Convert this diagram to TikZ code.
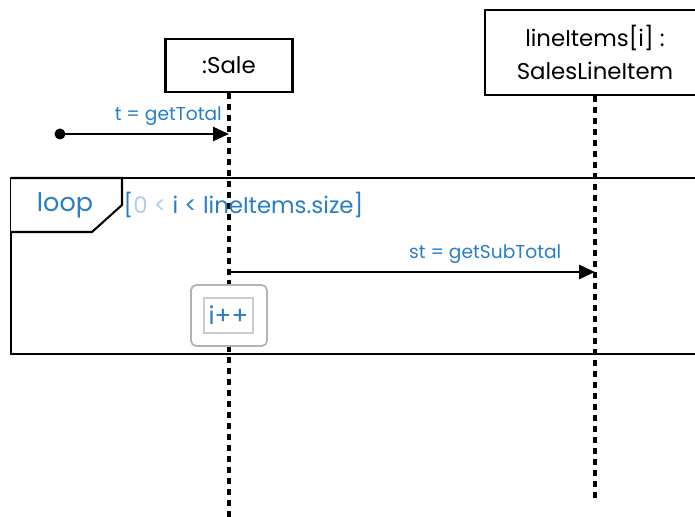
\documentclass[tikz,border=0pt]{standalone}
\usepackage{fontspec}
\setmainfont{Poppins}
\usetikzlibrary{arrows.meta,positioning}
\definecolor{msgblue}{RGB}{40,125,195}
\definecolor{paleblue}{RGB}{175,205,240}
\begin{document}
\begin{tikzpicture}[thick,
	obj/.style = {draw, line width=1.2pt, fill=white, align=center, font=\fontsize{13}{18.5}\selectfont},
	life/.style = {line width=1.9pt, dash pattern=on 0.12cm off 0.1cm},
	msg/.style = {line width=1.5pt, -{Triangle[length=0.32cm,width=0.28cm]}},
	lbl/.style = {text=msgblue, font=\fontsize{10.6}{12}\selectfont}]
	\clip (0,0) rectangle (13.9,-10.34);
	
	\node[obj, minimum width=2.54cm, minimum height=1.06cm] (sale) at (4.58,-1.31) {:Sale};
	\node[obj, minimum width=4.4cm, minimum height=1.7cm] (items) at (11.9,-1.05) {lineItems[i] :\\SalesLineItem};
	
	\coordinate (saleEnd) at (4.58,-10.34);
	\coordinate (itemsEnd) at (11.9,-10.0);
	\draw[life] (sale) -- (saleEnd);
	\draw[life] (items) -- (itemsEnd);
	
	% found message
	\coordinate (start) at (1.2,-2.68);
	\coordinate (saleTotal) at (4.58,-2.68);
	\fill (start) circle (0.11);
	\draw[msg] (start) -- (saleTotal) node[lbl, pos=1, above=1pt, anchor=south east] {t = getTotal};
	
	% loop fragment
	\draw[line width=1.4pt] (0.22,-3.56) rectangle (14.2,-7.08);
	\draw[line width=1.2pt, fill=white] (0.22,-3.56) -- (2.44,-3.56) -- (2.44,-4.1) -- (1.84,-4.64) -- (0.22,-4.64);
	\node[text=msgblue, font=\fontsize{14.5}{16}\selectfont] (loop) at (1.3,-4.1) {loop};
	\node[anchor=west, inner sep=0pt, text=msgblue, font=\fontsize{13}{15}\selectfont] (guard) at (2.46,-4.1) {[\textcolor{paleblue}{0 <} i < lineItems.size]};
	
	\coordinate (saleSub) at (4.58,-5.44);
	\coordinate (itemsSub) at (11.9,-5.44);
	\draw[msg] (saleSub) -- (itemsSub) node[lbl, pos=0.7, above=1pt] {st = getSubTotal};
	
	% local action
	\node[draw=black!30, fill=white, rounded corners=3pt, minimum width=1.52cm, minimum height=1.22cm, line width=1pt] (inc) at (4.58,-6.31) {};
	\node[draw=black!20, fill=white, minimum width=0.98cm, minimum height=0.7cm, inner sep=0pt, line width=0.6pt, text=msgblue, font=\fontsize{14}{15}\selectfont] (incText) at (4.57,-6.31) {i++};
	
\end{tikzpicture}
\end{document}
